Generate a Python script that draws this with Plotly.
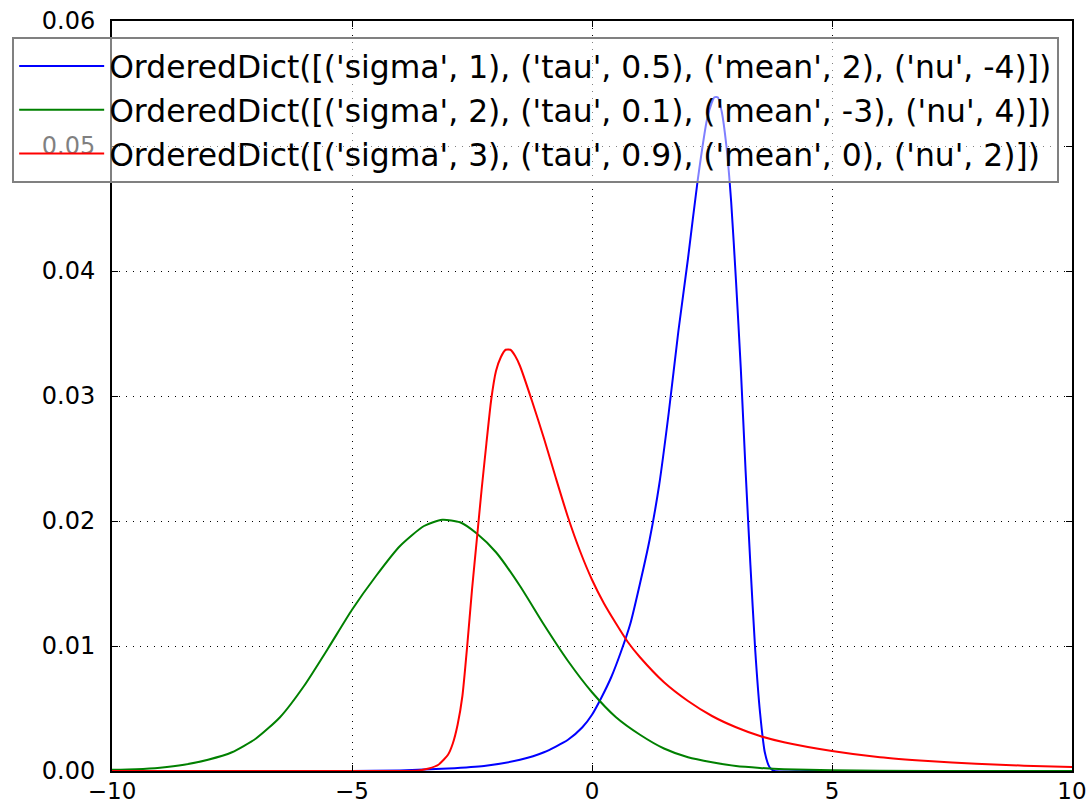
import plotly.graph_objects as go

# Density curves for three parameter sets
labels = [
    "OrderedDict([('sigma', 1), ('tau', 0.5), ('mean', 2), ('nu', -4)])",
    "OrderedDict([('sigma', 2), ('tau', 0.1), ('mean', -3), ('nu', 4)])",
    "OrderedDict([('sigma', 3), ('tau', 0.9), ('mean', 0), ('nu', 2)])",
]
colors = ["#0000ff", "#008000", "#ff0000"]

blue_x = [-10, -5, -4, -3, -2.25, -1.5, -1.0, -0.5, -0.2, 0, 0.2, 0.4, 0.6, 0.8, 1.0, 1.2,
          1.4, 1.6, 1.8, 2.0, 2.2, 2.4, 2.5, 2.55, 2.62, 2.7, 2.8, 2.9, 3.0, 3.1, 3.2,
          3.3, 3.4, 3.5, 3.6, 3.7, 3.8, 4.5, 10]
blue_y = [0, 0, 0.00005, 0.0002, 0.0004, 0.0009, 0.0015, 0.0025, 0.0035, 0.0045, 0.0059, 0.0075,
          0.0095, 0.0118, 0.0150, 0.0185, 0.0229, 0.0287, 0.0352, 0.0410, 0.0472, 0.0522, 0.0535,
          0.0539, 0.0539, 0.0528, 0.0500, 0.0455, 0.0392, 0.0322, 0.0240, 0.0165, 0.0097, 0.0047,
          0.0015, 0.0003, 0, 0, 0]

green_x = [-10, -9.5, -9, -8.5, -8, -7.5, -7, -6.5, -6, -5.5, -5, -4.5, -4, -3.5, -3.12,
           -2.75, -2.4, -2, -1.5, -1, -0.5, 0, 0.5, 1.0, 1.5, 2, 2.5, 3, 3.5, 4, 5, 6, 8, 10]
green_y = [0.0001, 0.00015, 0.00027, 0.0005, 0.0009, 0.0015, 0.0026, 0.0043, 0.0068, 0.0098,
           0.0129, 0.0156, 0.0180, 0.0196, 0.0201, 0.0199, 0.0190, 0.0175, 0.0148, 0.0117, 0.0088,
           0.0063, 0.0043, 0.0029, 0.0018, 0.0011, 0.0007, 0.0004, 0.00025, 0.00015, 0.00006,
           0.00002, 0, 0]

red_x = [-10, -4, -3.6, -3.4, -3.2, -3.0, -2.9, -2.8, -2.7, -2.6, -2.5, -2.4, -2.3, -2.2,
         -2.1, -2.0, -1.9, -1.8, -1.7, -1.6, -1.5, -1.25, -1.0, -0.75, -0.5, -0.25, 0.0, 0.25,
         0.5, 0.75, 1.0, 1.5, 2.0, 2.5, 3.0, 3.5, 4.0, 5.0, 6.0, 7.0, 8.0, 9.0, 10]
red_y = [0, 0, 0.00005, 0.0002, 0.0005, 0.0013, 0.0022, 0.0037, 0.0060, 0.0100, 0.0145, 0.0185,
         0.0225, 0.0262, 0.0297, 0.0320, 0.0331, 0.0337, 0.0337, 0.0332, 0.0324, 0.0296, 0.0266,
         0.0234, 0.0203, 0.0176, 0.0153, 0.0134, 0.0118, 0.0103, 0.0091, 0.0071, 0.0056, 0.0044,
         0.0035, 0.0028, 0.0023, 0.0016, 0.0011, 0.0008, 0.00058, 0.00043, 0.00032]

x_ticks = [-10, -5, 0, 5, 10]
x_ticktext = ["\u221210", "\u22125", "0", "5", "10"]
y_ticks = [0.0, 0.01, 0.02, 0.03, 0.04, 0.05, 0.06]
y_ticktext = ["0.00", "0.01", "0.02", "0.03", "0.04", "0.05", "0.06"]

series = [(blue_x, blue_y), (green_x, green_y), (red_x, red_y)]

fig = go.Figure()
for i, ((xs, ys), name, col) in enumerate(zip(series, labels, colors)):
    fig.add_trace(go.Scatter(
        x=xs, y=ys, mode="lines", name=name, legendgroup=f"g{i}",
        line=dict(color=col, width=2, shape="spline", smoothing=0.6),
    ))

font = "DejaVu Sans"
axis_common = dict(
    showline=True, linecolor="black", linewidth=2, mirror="ticks",
    ticks="inside", ticklen=6, tickwidth=1, tickcolor="black",
    showgrid=True, gridcolor="black", gridwidth=1, griddash="1px,6px",
    zeroline=False, automargin=False,
)

fig.update_layout(
    width=1091, height=804,
    margin=dict(l=106, r=19, t=21, b=33),
    paper_bgcolor="white", plot_bgcolor="white",
    xaxis=dict(range=[-10, 10], tickvals=x_ticks, ticktext=x_ticktext,
               ticklabelstandoff=-2,
               tickfont=dict(family=font, size=23, color="black"), **axis_common),
    yaxis=dict(range=[0, 0.06], tickvals=y_ticks, ticktext=y_ticktext,
               ticklabelstandoff=10,
               tickfont=dict(family=font, size=24, color="black"), **axis_common),
    showlegend=True,
    legend=dict(
        x=-0.104, y=0.9787, xanchor="left", yanchor="top",
        bgcolor="rgba(255,255,255,0.5)", bordercolor="#808080", borderwidth=2,
        font=dict(family=font, size=31.4, color="black"),
        itemwidth=85, tracegroupgap=0,
    ),
)

fig.write_html("out.html")
